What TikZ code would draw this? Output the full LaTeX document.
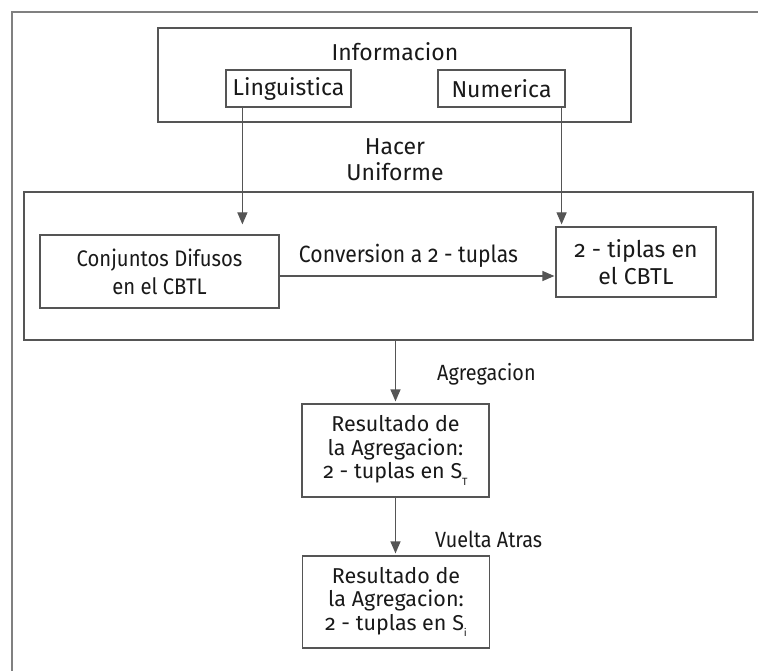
\documentclass[tikz,border=0pt]{standalone}
\usepackage{fontspec}
\setmainfont{Fira Sans}[Numbers=OldStyle]
\newfontfamily\narrowfont{Fira Sans}[Numbers=OldStyle, FakeStretch=0.9]
\usepackage{tikz}
\usetikzlibrary{arrows.meta,positioning,calc}
\definecolor{boxgray}{RGB}{85,85,85}
\definecolor{framegray}{RGB}{128,128,128}
\definecolor{txtgray}{RGB}{25,25,25}
\newcommand{\lowsub}[1]{\raisebox{-0.6ex}{\fontsize{10.5}{10.5}\selectfont #1}}

\tikzset{
  box/.style={draw=boxgray, line width=1.2pt, inner sep=0pt, align=center, text=txtgray},
  flow/.style={-{Triangle[length=12pt,width=10pt]}, draw=boxgray, line width=1.2pt},
  lbl/.style={text=txtgray, align=center, inner sep=0pt},
  big/.style={font=\fontsize{23}{26}\selectfont},
  slim/.style={font=\narrowfont\fontsize{22}{23.5}\selectfont},
  result/.style={box, font=\fontsize{21.5}{23.5}\selectfont, minimum width=187pt, minimum height=93pt}
}

\begin{document}
\begin{tikzpicture}[x=1pt, y=-1pt, font=\fontsize{20}{26}\selectfont]
    \useasboundingbox (0,0) rectangle (758,671);
    % Outer frame
    \draw[framegray, line width=2.5pt] (12,671) -- (12,12) -- (758,12);

    % Information
    \node[box, minimum width=473pt, minimum height=94pt] (info) at (394.5,75) {};
    \node[lbl, big] (infot) at (395,52) {Informacion};
    \node[box, big, minimum width=125pt, minimum height=37pt] (ling) at (288.5,88.5) {Linguistica};
    \node[box, big, minimum width=127pt, minimum height=37pt] (num) at (501.5,88.5) {Numerica};

    % Hacer uniforme
    \node[lbl, big] (hacer) at (395,160) {Hacer\\Uniforme};
    \node[box, minimum width=729pt, minimum height=148pt] (unif) at (388.5,266) {};
    \node[box, minimum width=239pt, minimum height=73pt, font=\narrowfont\fontsize{22.5}{28}\selectfont] (conj) at (159.5,271.5) {Conjuntos Difusos\\en el CBTL};
    \node[box, minimum width=160pt, minimum height=70pt, font=\fontsize{23}{27}\selectfont] (tip) at (636,262) {2 - tiplas en\\el CBTL};

    \draw[flow, shorten >=2pt] ([xshift=17pt]ling.south west) -- ([xshift=17pt]ling.south west |- tip.north);
    \draw[flow, shorten >=2pt] ([xshift=-4pt]num.south east) -- ([xshift=-4pt]num.south east |- tip.north);
    \draw[flow, shorten >=1pt] ([yshift=-4.5pt]conj.east) -- ([yshift=-4.5pt]conj.east -| tip.west)
        node[lbl, midway, above=8pt, xshift=-9pt, font=\narrowfont\fontsize{23.5}{26}\selectfont] (conv) {Conversion a 2 - tuplas};

    % Aggregation
    \node[result] (res1) at (395.5,450.5) {Resultado de\\la Agregacion:\\2 - tuplas en S\lowsub{T}};
    \node[result, minimum height=92pt] (res2) at (396,602) {Resultado de\\la Agregacion:\\2 - tuplas en S\lowsub{i}};

    \draw[flow, shorten >=2pt] (unif.south -| res1.north) -- (res1.north);
    \node[lbl, slim, anchor=west] (agr) at (437,374) {Agregacion};
    \draw[flow, shorten >=2pt] (res1.south) -- (res1.south |- res2.north);
    \node[lbl, slim, anchor=west] (vuelta) at (435,539) {Vuelta Atras};
\end{tikzpicture}
\end{document}
